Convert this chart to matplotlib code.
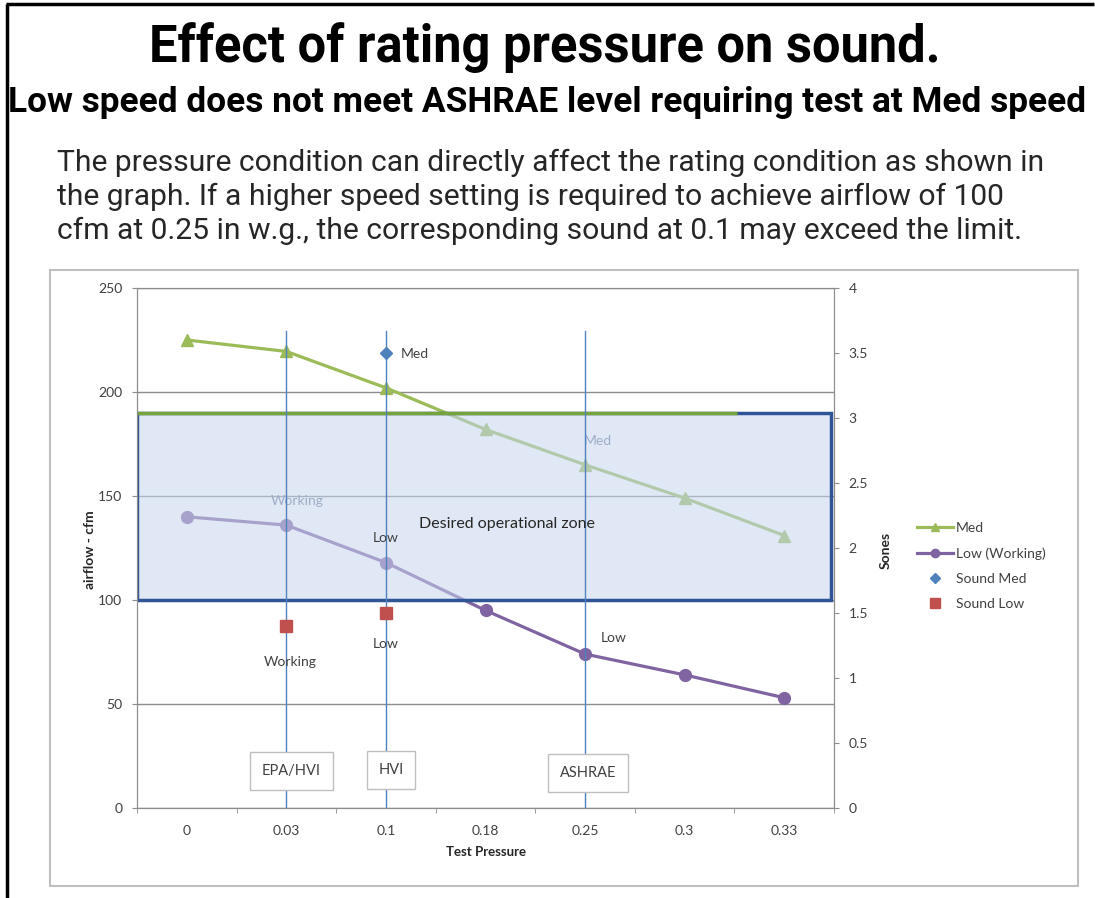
import matplotlib
matplotlib.use('Agg')
import matplotlib.pyplot as plt
from matplotlib.lines import Line2D
from matplotlib.patches import Rectangle
import numpy as np

# ---------------- data ----------------
pressures = ['0', '0.03', '0.1', '0.18', '0.25', '0.3', '0.33']
med_cfm = [225, 219.5, 202, 182, 165, 149, 131]
low_cfm = [140, 136, 118, 95, 74, 64, 53]
sound_med_at = ['0.1']
sound_med_sones = [3.5]
sound_low_at = ['0.03', '0.1']
sound_low_sones = [1.4, 1.5]
zone_cfm = [100, 190]
ref_at = ['0.03', '0.1', '0.25']
ref_names = ['EPA/HVI', 'HVI', 'ASHRAE']
left_ticks = [0, 50, 100, 150, 200, 250]
right_ticks = [0, 0.5, 1, 1.5, 2, 2.5, 3, 3.5, 4]

title = 'Effect of rating pressure on sound.'
subtitle = 'Low speed does not meet ASHRAE level requiring test at Med speed'
para = ['The pressure condition can directly affect the rating condition as shown in',
        'the graph. If a higher speed setting is required to achieve airflow of 100',
        'cfm at 0.25 in w.g., the corresponding sound at 0.1 may exceed the limit.']

# ---------------- figure ----------------
W, H = 1095, 898
fig = plt.figure(figsize=(W / 100, H / 100), dpi=100)
fx = lambda px: px / W
fy = lambda py: 1 - py / H

CH = ['Lato', 'DejaVu Sans']
TX = ['Roboto', 'DejaVu Sans']
GREEN = '#9bbb59'
PURPLE = '#8064a2'
BLUE = '#4f81bd'
RED = '#c0504d'
GRID = '#8c8c8c'
TXT = '#404040'

renderer = fig.canvas.get_renderer()


def fit(t, width_px):
    w = t.get_window_extent(renderer).width
    t.set_fontsize(t.get_fontsize() * width_px / w)


t = fig.text(fx(545), fy(62), title, ha='center', va='baseline', family=TX,
             weight='bold', size=30, color='black')
fit(t, 790)
t = fig.text(fx(8), fy(112), subtitle, ha='left', va='baseline', family=TX,
             weight='bold', size=18, color='black')
fit(t, 1080)
pt = []
for i, line in enumerate(para):
    pt.append(fig.text(fx(57), fy(171 + 34 * i), line, ha='left', va='baseline',
                       family=TX, size=18, color='#262626'))
fit(pt[0], 986)
for p in pt[1:]:
    p.set_fontsize(pt[0].get_fontsize())

# frame lines
fig.add_artist(Line2D([fx(7), fx(7)], [0, fy(4)], color='black', lw=2.5,
                      solid_capstyle='butt'))
fig.add_artist(Line2D([fx(6), fx(1094)], [fy(4), fy(4)], color='black', lw=2.5,
                      solid_capstyle='butt'))
fig.add_artist(Rectangle((fx(50), fy(886)), (1078 - 50) / W, (886 - 270) / H,
                         transform=fig.transFigure, fill=False, ec='#bfbfbf', lw=1.5))

# ---------------- axes ----------------
ax = fig.add_axes([fx(137), fy(808), (834 - 137) / W, (808 - 288) / H])
x = np.arange(len(pressures))
pos = {p: i for i, p in enumerate(pressures)}
ax.set_xlim(-0.5, len(pressures) - 0.5)
ax.set_ylim(0, 250)
ax.set_yticks(left_ticks)
ax.set_yticklabels([str(v) for v in left_ticks], family=CH)
ax.yaxis.grid(True, color=GRID, lw=1)
ax.set_axisbelow(True)
ax.set_xticks(x)
ax.set_xticklabels(pressures, family=CH)
ax.set_xticks(np.arange(-0.5, len(pressures), 1), minor=True)
ax.tick_params(axis='x', which='major', length=0, pad=12, labelsize=10, labelcolor=TXT)
ax.tick_params(axis='x', which='minor', length=3.6, color=GRID)
ax.tick_params(axis='y', length=3.6, color=GRID, pad=7, labelsize=10, labelcolor=TXT)
for s in ax.spines.values():
    s.set_color(GRID)
ax.set_xlabel('Test Pressure', family=CH, weight='bold', size=9.5, color='#262626',
              labelpad=7)

# series
ax.plot(x, med_cfm, color=GREEN, lw=2.3, marker='^', ms=8.5, zorder=2)
ax.plot(x, low_cfm, color=PURPLE, lw=2.3, marker='o', ms=8.5, zorder=2)

# faded labels (under the zone)
ax.text(4.13, 176.4, 'Med', ha='center', va='center', size=10, color='#6d7c94',
        family=CH, zorder=2)
ax.text(1.11, 147.6, 'Working', ha='center', va='center', size=10, color='#6d7c94',
        family=CH, zorder=2)

# desired zone
ax.add_patch(Rectangle((-0.5, zone_cfm[0]), 6.97, zone_cfm[1] - zone_cfm[0],
                       fc=(0.78, 0.84, 0.94, 0.55), ec='#2f5597', lw=2.5, zorder=3))
ax.plot([-0.5, 5.53], [zone_cfm[1], zone_cfm[1]], color='#77a33c', lw=2.5, zorder=3.5,
        solid_capstyle='butt')

# reference verticals + boxes
box_off = {'EPA/HVI': (0.05, 17.8), 'HVI': (0.05, 18.3), 'ASHRAE': (0.03, 16.8)}
for p, name in zip(ref_at, ref_names):
    i = pos[p]
    ax.plot([i, i], [0, 229.5], color=BLUE, lw=1, zorder=4)
    dx, yy = box_off[name]
    ax.text(i + dx, yy, name, ha='center', va='center', size=10.5, color=TXT, family=CH,
            zorder=6, bbox=dict(boxstyle='square,pad=0.8', fc='white', ec='#bfbfbf', lw=1))

# labels
lbl = dict(va='center', size=10, color=TXT, family=CH, zorder=6)
ax.text(2.15, 218.3, 'Med', ha='left', **lbl)
ax.text(2.0, 129.8, 'Low', ha='center', **lbl)
ax.text(1.04, 70.2, 'Working', ha='center', **lbl)
ax.text(2.0, 78.8, 'Low', ha='center', **lbl)
ax.text(4.29, 81.7, 'Low', ha='center', **lbl)
ax.text(3.22, 136.5, 'Desired operational zone', ha='center', va='center', size=11.5,
        color='#262626', family=CH, zorder=6)

# secondary axis
ax2 = ax.twinx()
ax2.set_ylim(0, 4)
ax2.set_yticks(right_ticks)
ax2.set_yticklabels(['%g' % v for v in right_ticks], family=CH)
ax2.tick_params(axis='y', length=3.6, color=GRID, pad=7, labelsize=10, labelcolor=TXT)
for s in ax2.spines.values():
    s.set_color(GRID)
ax2.plot([pos[p] for p in sound_med_at], sound_med_sones, ls='none', marker='D',
         ms=6.5, color=BLUE, zorder=5)
ax2.plot([pos[p] for p in sound_low_at], sound_low_sones, ls='none', marker='s',
         ms=8.5, color=RED, zorder=5)

fig.text(fx(90), fy(550), 'airflow - cfm', rotation=90, ha='center', va='center',
         family=CH, weight='bold', size=10, color='#262626')
fig.text(fx(886), fy(550), 'Sones', rotation=90, ha='center', va='center',
         family=CH, weight='bold', size=10, color='#262626')

handles = [Line2D([], [], color=GREEN, lw=2.3, marker='^', ms=6),
           Line2D([], [], color=PURPLE, lw=2.3, marker='o', ms=6),
           Line2D([], [], color=BLUE, ls='none', marker='D', ms=5),
           Line2D([], [], color=RED, ls='none', marker='s', ms=7)]
labels = ['Med', 'Low (Working)', 'Sound Med', 'Sound Low']
leg = fig.legend(handles, labels, loc='upper left', bbox_to_anchor=(fx(917), fy(522)),
                 frameon=False, handlelength=2.6, handletextpad=0.2, labelspacing=0.95,
                 borderaxespad=0, borderpad=0, prop={'family': CH, 'size': 10})
for tx in leg.get_texts():
    tx.set_color(TXT)

fig.savefig('out.png', dpi=100)
